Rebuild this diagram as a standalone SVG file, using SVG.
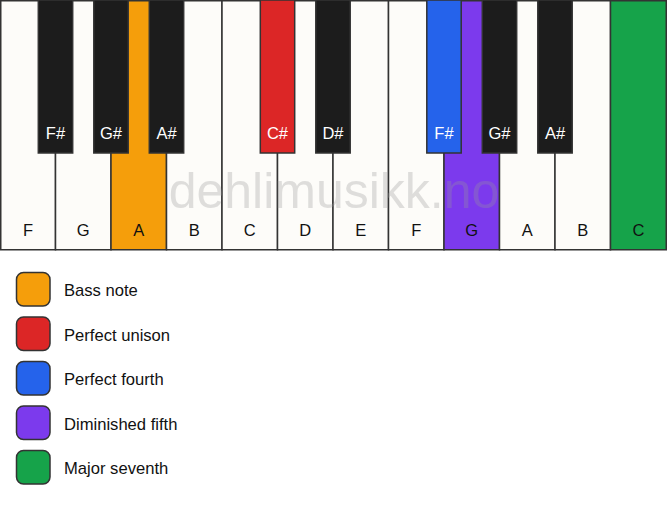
<svg xmlns="http://www.w3.org/2000/svg" width="667" height="506" viewBox="0 0 667 506">
<style>
.wk{fill:#fdfcf9;stroke:#333;stroke-width:1.5}
.bk{fill:#1c1c1c;stroke:#333;stroke-width:1.5}
.lw{font-family:"Liberation Sans",Arial,sans-serif;font-size:16.5px;fill:#111;text-anchor:middle}
.lb{font-family:"Liberation Sans",Arial,sans-serif;font-size:16.5px;fill:#fff;text-anchor:middle}
.lg{font-family:"Liberation Sans",Arial,sans-serif;font-size:16.6px;fill:#111}
.sw{stroke:#333;stroke-width:1.5}
.wm{font-family:"Liberation Sans",Arial,sans-serif;font-size:50px;fill:#999;opacity:0.3;text-anchor:middle}
</style>
<rect width="667" height="506" fill="#ffffff"/>
<g id="white-keys">
<g id="wk-F1"><rect class="wk" x="0.75" y="0.75" width="54.75" height="249"/><text class="lw" x="28" y="236">F</text></g>
<g id="wk-G1"><rect class="wk" x="55.5" y="0.75" width="55.5" height="249"/><text class="lw" x="83.25" y="236">G</text></g>
<g id="wk-A1"><rect class="wk" x="111" y="0.75" width="55.5" height="249" style="fill:#f59e0b"/><text class="lw" x="138.75" y="236">A</text></g>
<g id="wk-B1"><rect class="wk" x="166.5" y="0.75" width="55.5" height="249"/><text class="lw" x="194.25" y="236">B</text></g>
<g id="wk-C1"><rect class="wk" x="222" y="0.75" width="55.5" height="249"/><text class="lw" x="249.75" y="236">C</text></g>
<g id="wk-D1"><rect class="wk" x="277.5" y="0.75" width="55.5" height="249"/><text class="lw" x="305.25" y="236">D</text></g>
<g id="wk-E1"><rect class="wk" x="333" y="0.75" width="55.5" height="249"/><text class="lw" x="360.75" y="236">E</text></g>
<g id="wk-F2"><rect class="wk" x="388.5" y="0.75" width="55.5" height="249"/><text class="lw" x="416.25" y="236">F</text></g>
<g id="wk-G2"><rect class="wk" x="444" y="0.75" width="55.5" height="249" style="fill:#7c3aed"/><text class="lw" x="471.75" y="236">G</text></g>
<g id="wk-A2"><rect class="wk" x="499.5" y="0.75" width="55.5" height="249"/><text class="lw" x="527.25" y="236">A</text></g>
<g id="wk-B2"><rect class="wk" x="555" y="0.75" width="55.5" height="249"/><text class="lw" x="582.75" y="236">B</text></g>
<g id="wk-C2"><rect class="wk" x="610.5" y="0.75" width="55.75" height="249" style="fill:#16a34a"/><text class="lw" x="638.5" y="236">C</text></g>
</g>
<text class="wm" x="334" y="208">dehlimusikk.no</text>
<g id="black-keys">
<g id="bk-Fs1"><rect class="bk" x="38.3" y="0" width="34.4" height="153"/><text class="lb" x="55.5" y="139">F#</text></g>
<g id="bk-Gs1"><rect class="bk" x="93.8" y="0" width="34.4" height="153"/><text class="lb" x="111" y="139">G#</text></g>
<g id="bk-As1"><rect class="bk" x="149.3" y="0" width="34.4" height="153"/><text class="lb" x="166.5" y="139">A#</text></g>
<g id="bk-Cs1"><rect class="bk" x="260.3" y="0" width="34.4" height="153" style="fill:#dc2626"/><text class="lb" x="277.5" y="139">C#</text></g>
<g id="bk-Ds1"><rect class="bk" x="315.8" y="0" width="34.4" height="153"/><text class="lb" x="333" y="139">D#</text></g>
<g id="bk-Fs2"><rect class="bk" x="426.8" y="0" width="34.4" height="153" style="fill:#2563eb"/><text class="lb" x="444" y="139">F#</text></g>
<g id="bk-Gs2"><rect class="bk" x="482.3" y="0" width="34.4" height="153"/><text class="lb" x="499.5" y="139">G#</text></g>
<g id="bk-As2"><rect class="bk" x="537.8" y="0" width="34.4" height="153"/><text class="lb" x="555" y="139">A#</text></g>
</g>
<g id="legend">
<g id="lg-bass"><rect class="sw" x="16.5" y="272.5" width="33.5" height="33.5" rx="7" fill="#f59e0b"/><text class="lg" x="64" y="296">Bass note</text></g>
<g id="lg-unison"><rect class="sw" x="16.5" y="317" width="33.5" height="33.5" rx="7" fill="#dc2626"/><text class="lg" x="64" y="340.5">Perfect unison</text></g>
<g id="lg-fourth"><rect class="sw" x="16.5" y="361.5" width="33.5" height="33.5" rx="7" fill="#2563eb"/><text class="lg" x="64" y="385">Perfect fourth</text></g>
<g id="lg-dim5"><rect class="sw" x="16.5" y="406" width="33.5" height="33.5" rx="7" fill="#7c3aed"/><text class="lg" x="64" y="429.5">Diminished fifth</text></g>
<g id="lg-maj7"><rect class="sw" x="16.5" y="450.5" width="33.5" height="33.5" rx="7" fill="#16a34a"/><text class="lg" x="64" y="474">Major seventh</text></g>
</g>
<g id="connectors"/>
</svg>
